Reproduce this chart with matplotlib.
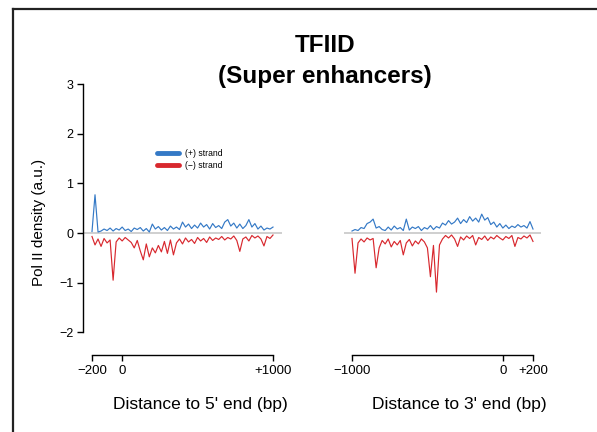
#!/usr/bin/env python3
"""
TFIID metagene profile at super enhancers
Pol II density on (+) and (-) strands around 5' and 3' ends
"""

import numpy as np
import matplotlib
matplotlib.use('Agg')
import matplotlib.pyplot as plt
from matplotlib.lines import Line2D

plt.rcParams['font.family'] = ['Liberation Sans', 'DejaVu Sans']

# Bin positions (bp), 20 bp bins
pos_5p = np.arange(-200, 1001, 20)
pos_3p = np.arange(-1000, 201, 20)

# Signal
plus_5p = [0.03, 0.77, 0.02, 0.04, 0.08, 0.05, 0.10, 0.04, 0.09, 0.06,
           0.12, 0.05, 0.08, 0.03, 0.10, 0.07, 0.11, 0.04, 0.09, 0.02,
           0.18, 0.08, 0.13, 0.06, 0.11, 0.05, 0.14, 0.08, 0.12, 0.07,
           0.22, 0.12, 0.18, 0.09, 0.16, 0.10, 0.20, 0.12, 0.17, 0.08,
           0.19, 0.11, 0.15, 0.09, 0.22, 0.27, 0.14, 0.20, 0.10, 0.18,
           0.09, 0.15, 0.27, 0.12, 0.19, 0.08, 0.14, 0.06, 0.10, 0.08,
           0.12]
minus_5p = [-0.07, -0.24, -0.12, -0.27, -0.11, -0.20, -0.14, -0.95, -0.18, -0.10,
            -0.16, -0.09, -0.14, -0.19, -0.30, -0.15, -0.36, -0.54, -0.22, -0.48,
            -0.30, -0.40, -0.25, -0.38, -0.17, -0.41, -0.14, -0.44, -0.20, -0.12,
            -0.22, -0.10, -0.18, -0.13, -0.21, -0.09, -0.16, -0.11, -0.19, -0.08,
            -0.15, -0.10, -0.13, -0.07, -0.14, -0.09, -0.12, -0.06, -0.15, -0.37,
            -0.12, -0.08, -0.16, -0.05, -0.10, -0.06, -0.12, -0.26, -0.07, -0.11,
            -0.04]
plus_3p = [0.04, 0.07, 0.05, 0.11, 0.09, 0.19, 0.22, 0.28, 0.10, 0.13,
           0.07, 0.05, 0.12, 0.06, 0.14, 0.08, 0.11, 0.05, 0.28, 0.06,
           0.12, 0.09, 0.13, 0.05, 0.11, 0.08, 0.15, 0.07, 0.13, 0.10,
           0.20, 0.16, 0.25, 0.18, 0.22, 0.30, 0.19, 0.27, 0.21, 0.33,
           0.24, 0.30, 0.22, 0.38, 0.26, 0.31, 0.17, 0.22, 0.12, 0.19,
           0.10, 0.16, 0.09, 0.14, 0.11, 0.17, 0.12, 0.15, 0.10, 0.23,
           0.08]
minus_3p = [-0.11, -0.81, -0.20, -0.12, -0.18, -0.10, -0.14, -0.11, -0.70, -0.30,
            -0.15, -0.22, -0.12, -0.28, -0.17, -0.24, -0.15, -0.44, -0.20, -0.13,
            -0.26, -0.16, -0.22, -0.12, -0.18, -0.30, -0.88, -0.25, -1.19, -0.24,
            -0.12, -0.05, -0.10, -0.04, -0.12, -0.27, -0.08, -0.14, -0.06, -0.11,
            -0.05, -0.24, -0.09, -0.13, -0.06, -0.15, -0.08, -0.12, -0.05, -0.10,
            -0.14, -0.07, -0.11, -0.05, -0.27, -0.09, -0.12, -0.06, -0.10, -0.04,
            -0.17]

ticks_5p = [-200, 0, 1000]
ticklabels_5p = ['\u2212200', '0', '+1000']
ticks_3p = [-1000, 0, 200]
ticklabels_3p = ['\u22121000', '0', '+200']
yticks = [-2, -1, 0, 1, 2, 3]

BLUE = '#3479c6'
RED = '#d8282e'
GRAY = '#cfcfcf'

W, H = 597, 432
fig = plt.figure(figsize=(W / 100, H / 100), dpi=100)

# axes positions from pixel boxes
bottom = (H - 355) / H
height = (355 - 84) / H
ax1 = fig.add_axes([83 / W, bottom, (282 - 83) / W, height])
ax2 = fig.add_axes([344 / W, bottom, (541 - 344) / W, height])

px_per_bp = 181 / 1200.0
ylim = (3 - (355 - 84) / 49.67, 3)

for ax, pos, plus, minus in [(ax1, pos_5p, plus_5p, minus_5p),
                             (ax2, pos_3p, plus_3p, minus_3p)]:
    ax.axhline(0, color=GRAY, lw=1.4, zorder=1)
    ax.plot(pos, plus, color=BLUE, lw=0.85, zorder=2)
    ax.plot(pos, minus, color=RED, lw=0.85, zorder=2)
    ax.set_ylim(*ylim)
    for s in ['top', 'right']:
        ax.spines[s].set_visible(False)
    ax.tick_params(axis='x', length=4.5, width=1.0, pad=3, labelsize=9.5)
    ax.tick_params(axis='y', length=4, width=1.0, pad=3, labelsize=9)
    ax.patch.set_visible(False)

ax1.set_xlim(-200 - 9 / px_per_bp, 1000 + 9 / px_per_bp)
ax2.set_xlim(-1000 - 8 / px_per_bp, 200 + 8 / px_per_bp)

ax1.spines['bottom'].set_bounds(-200, 1000)
ax2.spines['bottom'].set_bounds(-1000, 200)
ax1.spines['left'].set_bounds(-2, 3)
ax2.spines['left'].set_visible(False)
ax2.tick_params(axis='y', left=False, labelleft=False)

ax1.set_xticks(ticks_5p)
ax1.set_xticklabels(ticklabels_5p)
ax2.set_xticks(ticks_3p)
ax2.set_xticklabels(ticklabels_3p)
ax1.set_yticks(yticks)
ax1.set_yticklabels(['\u22122', '\u22121', '0', '1', '2', '3'])

for sp in [ax1.spines['left'], ax1.spines['bottom'], ax2.spines['bottom']]:
    sp.set_linewidth(1.0)

ax1.set_xlabel("Distance to 5' end (bp)", fontsize=12.5)
ax2.set_xlabel("Distance to 3' end (bp)", fontsize=12.5)
ax1.xaxis.set_label_coords((200 - 83) / (282 - 83), -49 / 271)
ax2.xaxis.set_label_coords((459 - 344) / (541 - 344), -49 / 271)
ax1.xaxis.label.set_va('center')
ax2.xaxis.label.set_va('center')

ax1.set_ylabel('Pol II density (a.u.)', fontsize=11)
ax1.yaxis.set_label_coords((39 - 83) / (282 - 83), (355 - 222) / 271)
ax1.yaxis.label.set_va('center')

# legend
handles = [Line2D([], [], color=BLUE, lw=3.5, solid_capstyle='round'),
           Line2D([], [], color=RED, lw=3.5, solid_capstyle='round')]
fig.legend(handles, ['(+) strand', '(\u2212) strand'], loc='upper left',
           bbox_to_anchor=(157 / W, 1 - 149 / H), frameon=False, fontsize=6.2,
           handlelength=2.5, handletextpad=0.8, labelspacing=0.3,
           borderpad=0, borderaxespad=0)

# title
fig.text(325 / W, 1 - 45 / H, 'TFIID', ha='center', va='center',
         fontsize=17.5, fontweight='bold')
fig.text(325 / W, 1 - 76 / H, '(Super enhancers)', ha='center', va='center',
         fontsize=17.5, fontweight='bold')

# frame
fig.add_artist(Line2D([13 / W, 1], [1 - 9 / H, 1 - 9 / H], color='#222222',
                      lw=1.6, transform=fig.transFigure))
fig.add_artist(Line2D([13 / W, 13 / W], [0, 1 - 9 / H], color='#222222',
                      lw=1.6, transform=fig.transFigure))

fig.savefig('out.png', dpi=100)
